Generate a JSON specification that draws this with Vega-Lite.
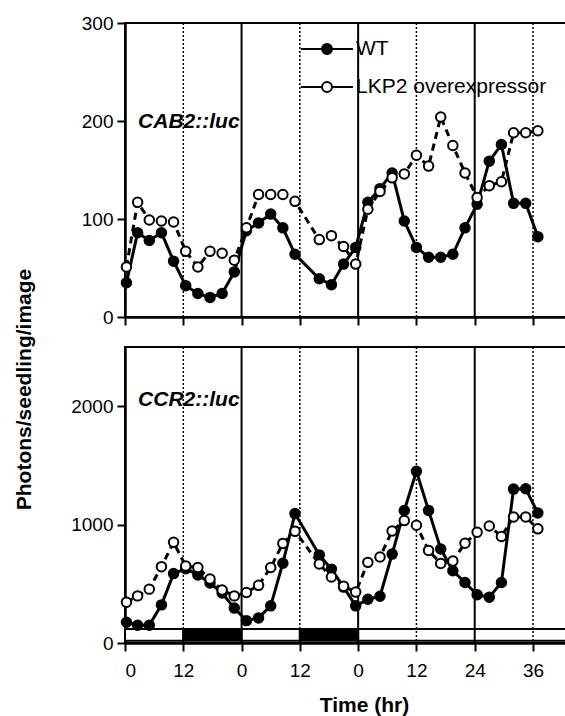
{
  "$schema": "https://vega.github.io/schema/vega-lite/v6.json",
  "autosize": {"type": "pad"},
  "padding": {"left": 11, "top": 13, "right": 0, "bottom": 0},
  "background": "white",
  "bounds": "flush",
  "spacing": 30,
  "resolve": {"scale": {"fill": "independent"}, "legend": {"fill": "independent"}},
  "config": {
    "font": "Liberation Sans",
    "view": {"stroke": "black", "strokeWidth": 2},
    "axis": {
      "domainColor": "black", "domainWidth": 2.5,
      "tickColor": "black", "tickWidth": 2, "tickSize": 8,
      "labelColor": "black", "labelFontSize": 19, "labelFont": "Liberation Sans",
      "grid": false,
      "titleColor": "black", "titleFont": "Liberation Sans", "titleFontWeight": "bold", "titleFontSize": 21
    },
    "legend": {"labelFont": "Liberation Sans", "labelColor": "black"}
  },
  "datasets": {
    "cab2": [
      {"t": 0.3, "g": "WT", "v": 35}, {"t": 2.6, "g": "WT", "v": 86}, {"t": 5, "g": "WT", "v": 78}, {"t": 7.5, "g": "WT", "v": 86},
      {"t": 10, "g": "WT", "v": 57}, {"t": 12.5, "g": "WT", "v": 32}, {"t": 15, "g": "WT", "v": 24}, {"t": 17.5, "g": "WT", "v": 20},
      {"t": 20, "g": "WT", "v": 24}, {"t": 22.5, "g": "WT", "v": 46}, {"t": 25, "g": "WT", "v": 88}, {"t": 27.5, "g": "WT", "v": 96},
      {"t": 30, "g": "WT", "v": 105}, {"t": 32.5, "g": "WT", "v": 91}, {"t": 35, "g": "WT", "v": 64}, {"t": 40, "g": "WT", "v": 39},
      {"t": 42.5, "g": "WT", "v": 33}, {"t": 45, "g": "WT", "v": 54}, {"t": 47.5, "g": "WT", "v": 71}, {"t": 50, "g": "WT", "v": 117},
      {"t": 52.5, "g": "WT", "v": 131}, {"t": 55, "g": "WT", "v": 147}, {"t": 57.5, "g": "WT", "v": 98}, {"t": 60, "g": "WT", "v": 71},
      {"t": 62.5, "g": "WT", "v": 61}, {"t": 65, "g": "WT", "v": 61}, {"t": 67.5, "g": "WT", "v": 64}, {"t": 70, "g": "WT", "v": 91},
      {"t": 72.5, "g": "WT", "v": 115}, {"t": 75, "g": "WT", "v": 159}, {"t": 77.5, "g": "WT", "v": 176}, {"t": 80, "g": "WT", "v": 116},
      {"t": 82.5, "g": "WT", "v": 116}, {"t": 85, "g": "WT", "v": 82},
      {"t": 0.3, "g": "LKP2 overexpressor", "v": 51}, {"t": 2.6, "g": "LKP2 overexpressor", "v": 117}, {"t": 5, "g": "LKP2 overexpressor", "v": 99}, {"t": 7.5, "g": "LKP2 overexpressor", "v": 98},
      {"t": 10, "g": "LKP2 overexpressor", "v": 97}, {"t": 12.5, "g": "LKP2 overexpressor", "v": 67}, {"t": 15, "g": "LKP2 overexpressor", "v": 51}, {"t": 17.5, "g": "LKP2 overexpressor", "v": 67},
      {"t": 20, "g": "LKP2 overexpressor", "v": 65}, {"t": 22.5, "g": "LKP2 overexpressor", "v": 58}, {"t": 25, "g": "LKP2 overexpressor", "v": 91}, {"t": 27.5, "g": "LKP2 overexpressor", "v": 125},
      {"t": 30, "g": "LKP2 overexpressor", "v": 125}, {"t": 32.5, "g": "LKP2 overexpressor", "v": 125}, {"t": 35, "g": "LKP2 overexpressor", "v": 118}, {"t": 40, "g": "LKP2 overexpressor", "v": 79},
      {"t": 42.5, "g": "LKP2 overexpressor", "v": 83}, {"t": 45, "g": "LKP2 overexpressor", "v": 72}, {"t": 47.5, "g": "LKP2 overexpressor", "v": 54}, {"t": 50, "g": "LKP2 overexpressor", "v": 110},
      {"t": 52.5, "g": "LKP2 overexpressor", "v": 128}, {"t": 55, "g": "LKP2 overexpressor", "v": 142}, {"t": 57.5, "g": "LKP2 overexpressor", "v": 146}, {"t": 60, "g": "LKP2 overexpressor", "v": 165},
      {"t": 62.5, "g": "LKP2 overexpressor", "v": 154}, {"t": 65, "g": "LKP2 overexpressor", "v": 204}, {"t": 67.5, "g": "LKP2 overexpressor", "v": 175}, {"t": 70, "g": "LKP2 overexpressor", "v": 147},
      {"t": 72.5, "g": "LKP2 overexpressor", "v": 122}, {"t": 75, "g": "LKP2 overexpressor", "v": 134}, {"t": 77.5, "g": "LKP2 overexpressor", "v": 138}, {"t": 80, "g": "LKP2 overexpressor", "v": 188},
      {"t": 82.5, "g": "LKP2 overexpressor", "v": 188}, {"t": 85, "g": "LKP2 overexpressor", "v": 190}
    ],
    "ccr2": [
      {"t": 0.3, "g": "WT", "v": 175}, {"t": 2.6, "g": "WT", "v": 150}, {"t": 5, "g": "WT", "v": 150}, {"t": 7.5, "g": "WT", "v": 322},
      {"t": 10, "g": "WT", "v": 586}, {"t": 12.5, "g": "WT", "v": 627}, {"t": 15, "g": "WT", "v": 575}, {"t": 17.5, "g": "WT", "v": 507},
      {"t": 20, "g": "WT", "v": 422}, {"t": 22.5, "g": "WT", "v": 295}, {"t": 25, "g": "WT", "v": 189}, {"t": 27.5, "g": "WT", "v": 212},
      {"t": 30, "g": "WT", "v": 314}, {"t": 32.5, "g": "WT", "v": 674}, {"t": 35, "g": "WT", "v": 1093}, {"t": 40, "g": "WT", "v": 744},
      {"t": 42.5, "g": "WT", "v": 624}, {"t": 45, "g": "WT", "v": 472}, {"t": 47.5, "g": "WT", "v": 314}, {"t": 50, "g": "WT", "v": 369},
      {"t": 52.5, "g": "WT", "v": 395}, {"t": 55, "g": "WT", "v": 751}, {"t": 57.5, "g": "WT", "v": 1119}, {"t": 60, "g": "WT", "v": 1450},
      {"t": 62.5, "g": "WT", "v": 1120}, {"t": 65, "g": "WT", "v": 794}, {"t": 67.5, "g": "WT", "v": 610}, {"t": 70, "g": "WT", "v": 511},
      {"t": 72.5, "g": "WT", "v": 407}, {"t": 75, "g": "WT", "v": 387}, {"t": 77.5, "g": "WT", "v": 511}, {"t": 80, "g": "WT", "v": 1300},
      {"t": 82.5, "g": "WT", "v": 1303}, {"t": 85, "g": "WT", "v": 1098},
      {"t": 0.3, "g": "LKP2 overexpressor", "v": 345}, {"t": 2.6, "g": "LKP2 overexpressor", "v": 398}, {"t": 5, "g": "LKP2 overexpressor", "v": 455}, {"t": 7.5, "g": "LKP2 overexpressor", "v": 645},
      {"t": 10, "g": "LKP2 overexpressor", "v": 850}, {"t": 12.5, "g": "LKP2 overexpressor", "v": 650}, {"t": 15, "g": "LKP2 overexpressor", "v": 638}, {"t": 17.5, "g": "LKP2 overexpressor", "v": 540},
      {"t": 20, "g": "LKP2 overexpressor", "v": 447}, {"t": 22.5, "g": "LKP2 overexpressor", "v": 398}, {"t": 25, "g": "LKP2 overexpressor", "v": 426}, {"t": 27.5, "g": "LKP2 overexpressor", "v": 487},
      {"t": 30, "g": "LKP2 overexpressor", "v": 638}, {"t": 32.5, "g": "LKP2 overexpressor", "v": 841}, {"t": 35, "g": "LKP2 overexpressor", "v": 943}, {"t": 40, "g": "LKP2 overexpressor", "v": 667},
      {"t": 42.5, "g": "LKP2 overexpressor", "v": 557}, {"t": 45, "g": "LKP2 overexpressor", "v": 480}, {"t": 47.5, "g": "LKP2 overexpressor", "v": 430}, {"t": 50, "g": "LKP2 overexpressor", "v": 681},
      {"t": 52.5, "g": "LKP2 overexpressor", "v": 726}, {"t": 55, "g": "LKP2 overexpressor", "v": 946}, {"t": 57.5, "g": "LKP2 overexpressor", "v": 1034}, {"t": 60, "g": "LKP2 overexpressor", "v": 994},
      {"t": 62.5, "g": "LKP2 overexpressor", "v": 782}, {"t": 65, "g": "LKP2 overexpressor", "v": 672}, {"t": 67.5, "g": "LKP2 overexpressor", "v": 692}, {"t": 70, "g": "LKP2 overexpressor", "v": 843},
      {"t": 72.5, "g": "LKP2 overexpressor", "v": 935}, {"t": 75, "g": "LKP2 overexpressor", "v": 988}, {"t": 77.5, "g": "LKP2 overexpressor", "v": 900}, {"t": 80, "g": "LKP2 overexpressor", "v": 1065},
      {"t": 82.5, "g": "LKP2 overexpressor", "v": 1065}, {"t": 85, "g": "LKP2 overexpressor", "v": 964}
    ],
    "markers": [
      {"t": 12, "phase": "dusk"}, {"t": 24, "phase": "dawn"}, {"t": 36, "phase": "dusk"}, {"t": 48, "phase": "dawn"},
      {"t": 60, "phase": "dusk"}, {"t": 72, "phase": "dawn"}, {"t": 84, "phase": "dusk"}
    ],
    "photoperiod": [
      {"start": 0, "end": 12, "cond": "light"}, {"start": 12, "end": 24, "cond": "dark"},
      {"start": 24, "end": 36, "cond": "light"}, {"start": 36, "end": 48, "cond": "dark"},
      {"start": 48, "end": 91, "cond": "light"}
    ],
    "lab1": [{"label": "CAB2::luc"}],
    "lab2": [{"label": "CCR2::luc"}]
  },
  "vconcat": [
    {
      "width": 442,
      "height": 294,
      "layer": [
        {
          "data": {"name": "markers"},
          "transform": [{"filter": "datum.phase == 'dawn'"}],
          "mark": {"type": "rule", "color": "black", "strokeWidth": 2},
          "encoding": {
            "x": {"field": "t", "type": "quantitative", "scale": {"domain": [0, 91], "nice": false, "zero": false},
              "axis": {"values": [0, 12, 24, 36, 48, 60, 72, 84], "labels": false, "title": null}}
          }
        },
        {
          "data": {"name": "markers"},
          "transform": [{"filter": "datum.phase == 'dusk'"}],
          "mark": {"type": "rule", "color": "black", "strokeWidth": 1.5, "strokeDash": [2, 2]},
          "encoding": {"x": {"field": "t", "type": "quantitative"}}
        },
        {
          "data": {"name": "cab2"},
          "transform": [{"filter": "datum.g == 'WT'"}],
          "mark": {"type": "line", "color": "black", "strokeWidth": 3},
          "encoding": {
            "x": {"field": "t", "type": "quantitative"},
            "y": {"field": "v", "type": "quantitative", "scale": {"domain": [0, 300], "nice": false},
              "axis": {"values": [0, 100, 200, 300], "title": null, "labelPadding": 4, "format": "d"}}
          }
        },
        {
          "data": {"name": "cab2"},
          "transform": [{"filter": "datum.g == 'LKP2 overexpressor'"}],
          "mark": {"type": "line", "color": "black", "strokeWidth": 3, "strokeDash": [7, 5]},
          "encoding": {
            "x": {"field": "t", "type": "quantitative"},
            "y": {"field": "v", "type": "quantitative"}
          }
        },
        {
          "data": {"name": "cab2"},
          "mark": {"type": "point", "filled": true, "size": 90, "stroke": "black", "strokeWidth": 2, "opacity": 1},
          "encoding": {
            "x": {"field": "t", "type": "quantitative"},
            "y": {"field": "v", "type": "quantitative"},
            "fill": {"field": "g", "type": "nominal", "scale": {"domain": ["WT", "LKP2 overexpressor"], "range": ["black", "white"]},
              "legend": {
                "title": null, "orient": "none", "legendX": 189, "legendY": 13, "padding": 0,
                "symbolType": "M-2.2,0H-0.42M0.42,0H2.2M-0.42,0A0.42,0.42,0,1,0,0.42,0A0.42,0.42,0,1,0,-0.42,0Z",
                "symbolSize": 557, "symbolStrokeWidth": 2, "symbolStrokeColor": "black",
                "labelFontSize": 21, "labelOffset": 16, "rowPadding": 15, "labelLimit": 300,
                "encode": {"symbols": {"update": {"stroke": {"value": "black"}, "strokeWidth": {"value": 2}, "opacity": {"value": 1}}}}
              }}
          }
        },
        {
          "data": {"name": "lab1"},
          "mark": {"type": "text", "align": "left", "baseline": "middle", "fontSize": 21, "fontWeight": "bold", "fontStyle": "italic", "color": "black"},
          "encoding": {"x": {"datum": 2.7}, "y": {"datum": 199}, "text": {"field": "label"}}
        }
      ]
    },
    {
      "width": 442,
      "height": 296,
      "resolve": {"scale": {"fill": "independent"}},
      "layer": [
        {
          "data": {"name": "photoperiod"},
          "mark": {"type": "rect", "stroke": "black", "strokeWidth": 2},
          "encoding": {
            "x": {"field": "start", "type": "quantitative", "scale": {"domain": [0, 91], "nice": false, "zero": false},
              "axis": {"values": [0, 12, 24, 36, 48, 60, 72, 84], "labelExpr": "datum.value >= 72 ? datum.value - 48 : datum.value % 24",
                "labelPadding": 10, "title": "Time (hr)", "titleX": 239, "titleY": 68, "titleBaseline": "alphabetic"}},
            "x2": {"field": "end"},
            "y": {"datum": 20, "type": "quantitative"},
            "y2": {"datum": 118},
            "fill": {"field": "cond", "type": "nominal", "scale": {"domain": ["light", "dark"], "range": ["white", "black"]}, "legend": null}
          }
        },
        {
          "data": {"name": "markers"},
          "transform": [{"filter": "datum.phase == 'dawn'"}],
          "mark": {"type": "rule", "color": "black", "strokeWidth": 2},
          "encoding": {"x": {"field": "t", "type": "quantitative"}}
        },
        {
          "data": {"name": "markers"},
          "transform": [{"filter": "datum.phase == 'dusk'"}],
          "mark": {"type": "rule", "color": "black", "strokeWidth": 1.5, "strokeDash": [2, 2]},
          "encoding": {"x": {"field": "t", "type": "quantitative"}}
        },
        {
          "data": {"name": "ccr2"},
          "transform": [{"filter": "datum.g == 'WT'"}],
          "mark": {"type": "line", "color": "black", "strokeWidth": 3},
          "encoding": {
            "x": {"field": "t", "type": "quantitative"},
            "y": {"field": "v", "type": "quantitative", "scale": {"domain": [0, 2500], "nice": false},
              "axis": {"values": [0, 1000, 2000], "format": "d", "labelPadding": 4, "title": "Photons/seedling/image", "titleX": -91, "titleY": 42}}
          }
        },
        {
          "data": {"name": "ccr2"},
          "transform": [{"filter": "datum.g == 'LKP2 overexpressor'"}],
          "mark": {"type": "line", "color": "black", "strokeWidth": 3, "strokeDash": [7, 5]},
          "encoding": {
            "x": {"field": "t", "type": "quantitative"},
            "y": {"field": "v", "type": "quantitative"}
          }
        },
        {
          "data": {"name": "ccr2"},
          "mark": {"type": "point", "filled": true, "size": 90, "stroke": "black", "strokeWidth": 2, "opacity": 1},
          "encoding": {
            "x": {"field": "t", "type": "quantitative"},
            "y": {"field": "v", "type": "quantitative"},
            "fill": {"field": "g", "type": "nominal", "scale": {"domain": ["WT", "LKP2 overexpressor"], "range": ["black", "white"]}, "legend": null}
          }
        },
        {
          "data": {"name": "lab2"},
          "mark": {"type": "text", "align": "left", "baseline": "middle", "fontSize": 21, "fontWeight": "bold", "fontStyle": "italic", "color": "black"},
          "encoding": {"x": {"datum": 2.7}, "y": {"datum": 2052}, "text": {"field": "label"}}
        }
      ]
    }
  ]
}
